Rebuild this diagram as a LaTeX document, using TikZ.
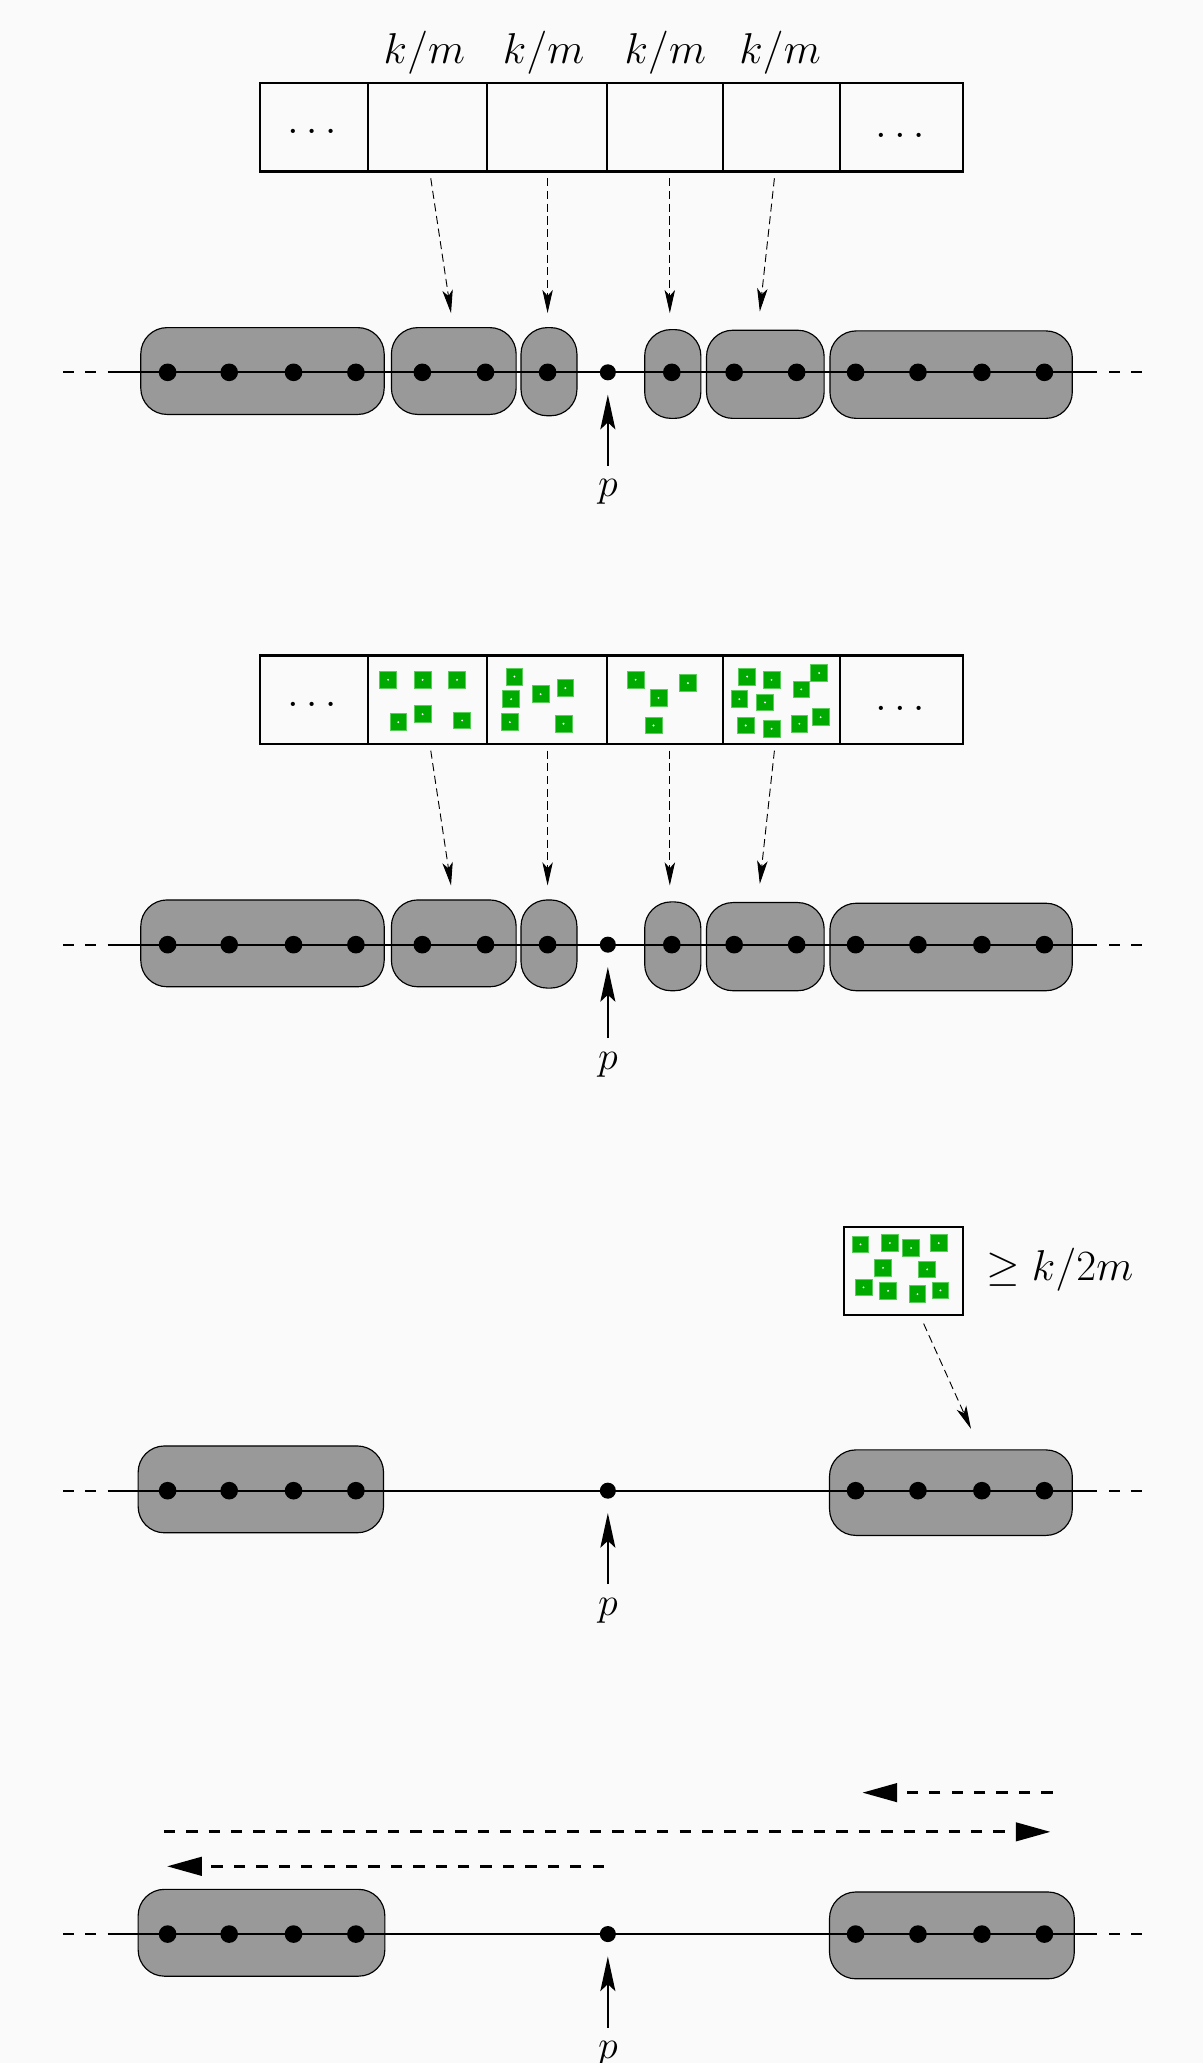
\documentclass[tikz,border=0pt]{standalone}
\usetikzlibrary{arrows.meta,fit}
\definecolor{bgcol}{RGB}{250,250,250}
\definecolor{blobgray}{RGB}{153,153,153}
\definecolor{itemgreen}{RGB}{0,170,0}
\definecolor{itemedge}{RGB}{90,205,90}
\tikzset{
  blob/.style={draw=black, line width=0.5pt, fill=blobgray, rounded corners=0.4cm, inner sep=0pt},
  vtx/.style={circle, fill=black, inner sep=0pt, minimum size=0.268cm},
  pvtx/.style={circle, fill=black, inner sep=0pt, minimum size=0.244cm},
  mainline/.style={line width=0.9pt},
  edgedash/.style={line width=0.9pt, dash pattern=on 4.8pt off 4.8pt},
  parrow/.style={line width=0.8pt, -{Stealth[length=15pt,width=6.5pt,inset=3pt]}},
  cellarrow/.style={line width=0.4pt, dash pattern=on 3.5pt off 2pt, -{Stealth[length=10pt,width=4.5pt,inset=2.5pt]}},
  bigarrow/.style={line width=1.2pt, dash pattern=on 4.9pt off 4.8pt, -{Triangle[length=15pt,width=8pt]}},
  cellbox/.style={draw=black, line width=1pt, inner sep=0pt},
  greenitem/.style={fill=itemgreen, draw=itemedge, line width=0.3pt, minimum size=0.254cm, inner sep=0pt,
    path picture={\fill[white] (path picture bounding box.center) circle (0.45pt);}},
  lab/.style={font=\LARGE, inner sep=0pt, scale=1.08, transform shape},
  plab/.style={font=\LARGE, inner sep=0pt},
}
\begin{document}
\begin{tikzpicture}[x=0.02cm,y=-0.02cm]
\fill[bgcol] (0,0) rectangle (914,1568);
\useasboundingbox (0,0) rectangle (914,1568);

% ---------- blobs ----------
\foreach \dy/\n in {0/1,435/2}{
  \node[blob, fit={(107,249+\dy)(292,315+\dy)}] (p\n b1) {};
  \node[blob, fit={(297.5,249+\dy)(392.3,315+\dy)}] (p\n b2) {};
  \node[blob, fit={(396,249+\dy)(438.5,316+\dy)}] (p\n b3) {};
  \node[blob, fit={(490,250.5+\dy)(532.7,318+\dy)}] (p\n b4) {};
  \node[blob, fit={(537,251+\dy)(626.4,318+\dy)}] (p\n b5) {};
  \node[blob, fit={(630.8,251.5+\dy)(815,318+\dy)}] (p\n b6) {};
}
\node[blob, fit={(105,1099)(291.5,1165)}] (p3b1) {};
\node[blob, fit={(630.5,1102)(815,1167)}] (p3b6) {};
\node[blob, fit={(105,1436)(292.5,1502)}] (p4b1) {};
\node[blob, fit={(630.5,1438)(816.5,1504)}] (p4b6) {};

% ---------- lines ----------
\foreach \dy/\n in {0/1,435/2,850/3,1187/4}{
  \coordinate (p\n la) at (48,283+\dy);
  \coordinate (p\n lb) at (91,283+\dy);
  \coordinate (p\n lc) at (85,283+\dy);
  \coordinate (p\n ld) at (834,283+\dy);
  \coordinate (p\n le) at (843,283+\dy);
  \coordinate (p\n lf) at (871,283+\dy);
  \draw[edgedash] (p\n la) -- (p\n lb);
  \draw[mainline] (p\n lc) -- (p\n ld);
  \draw[edgedash] (p\n le) -- (p\n lf);
}

% ---------- vertices ----------
\foreach \dy/\n in {0/1,435/2}{
  \foreach \x [count=\i] in {127.4,174.2,223.1,270.5,321,369,416.2,510.6,558,605.5,650.3,697.7,746.3,793.8}{
    \node[vtx] (p\n v\i) at (\x,283+\dy) {};
  }
}
\foreach \dy/\n in {850/3,1187/4}{
  \foreach \x [count=\i] in {127.4,174.2,223.1,270.5,650.3,697.7,746.3,793.8}{
    \node[vtx] (p\n v\i) at (\x,283+\dy) {};
  }
}

% ---------- p markers ----------
\foreach \dy/\n in {0/1,435/2,850/3,1187/4}{
  \node[pvtx] (p\n p) at (462,283+\dy) {};
  \node[plab, anchor=base] (p\n plab) at (462,377.5+\dy) {$p$};
  \coordinate (p\n ps) at (462,354+\dy);
  \coordinate (p\n pt) at (462,300+\dy);
  \draw[parrow] (p\n ps) -- (p\n pt);
}

% ---------- boxes of panels 1 and 2 ----------
\foreach \dy/\n in {0/1,435/2}{
  \foreach \xa/\xb [count=\i] in {197.6/279.6,279.6/370.4,370.4/461.4,461.4/549.7,549.7/638.3,638.3/731.8}{
    \node[cellbox, fit={(\xa,63.3+\dy)(\xb,130.4+\dy)}] (p\n c\i) {};
  }
  \node[lab, anchor=base] (p\n dl) at (237,101.7+\dy) {$\ldots$};
  \node[lab, anchor=base] (p\n dr) at (684,104.7+\dy) {$\ldots$};
  \coordinate (p\n a1s) at (327.4,135.5+\dy);
  \coordinate (p\n a1e) at (342.8,238+\dy);
  \coordinate (p\n a2s) at (416.2,135.5+\dy);
  \coordinate (p\n a2e) at (416.2,238+\dy);
  \coordinate (p\n a3s) at (509.1,135.5+\dy);
  \coordinate (p\n a3e) at (509.1,238+\dy);
  \coordinate (p\n a4s) at (588.6,135.5+\dy);
  \coordinate (p\n a4e) at (577.5,236.8+\dy);
  \draw[cellarrow] (p\n a1s) -- (p\n a1e);
  \draw[cellarrow] (p\n a2s) -- (p\n a2e);
  \draw[cellarrow] (p\n a3s) -- (p\n a3e);
  \draw[cellarrow] (p\n a4s) -- (p\n a4e);
}
\foreach \x [count=\i] in {322.6,413.2,505.7,592.9}{
  \node[lab, anchor=base] (km\i) at (\x,48) {$k/m$};
}

% ---------- green items, panel 2 ----------
\foreach \x/\y [count=\i] in {295.0/516.7,321.2/516.7,347.4/516.7,302.7/548.9,321.2/542.8,351.2/547.6,
  391.0/514.2,388.5/531.4,410.9/527.6,429.7/523.0,387.5/548.9,428.3/550.1,
  483.1/516.7,500.5/530.4,522.8/519.2,496.7/551.4,
  567.9/514.2,586.4/516.7,622.6/511.6,561.9/531.4,581.5/533.9,609.0/524.0,566.8/551.4,586.4/553.9,607.6/550.1,623.7/545.1}{
  \node[greenitem] (g\i) at (\x,\y) {};
}

% ---------- panel 3 box ----------
\node[cellbox, fit={(641.6,932.7)(732,999.3)}] (p3box) {};
\foreach \x/\y [count=\i] in {654.0/945.8,676.3/944.8,692.5/948.6,713.5/944.8,671.2/963.6,704.7/964.8,
  656.3/978.5,675.0/981.1,697.3/983.6,714.8/980.8}{
  \node[greenitem] (h\i) at (\x,\y) {};
}
\node[lab, anchor=base] (p3txt) at (805.5,973) {$\geq k/2m$};
\coordinate (p3as) at (702,1006);
\coordinate (p3ae) at (738,1086);
\draw[cellarrow] (p3as) -- (p3ae);

% ---------- panel 4 arrows ----------
\coordinate (t1s) at (800,1362.5);
\coordinate (t1e) at (655.5,1362.5);
\coordinate (t2s) at (124.5,1392.3);
\coordinate (t2e) at (798.4,1392.3);
\coordinate (t3s) at (459,1418.5);
\coordinate (t3e) at (127,1418.5);
\draw[bigarrow] (t1s) -- (t1e);
\draw[bigarrow] (t2s) -- (t2e);
\draw[bigarrow] (t3s) -- (t3e);
\end{tikzpicture}
\end{document}
